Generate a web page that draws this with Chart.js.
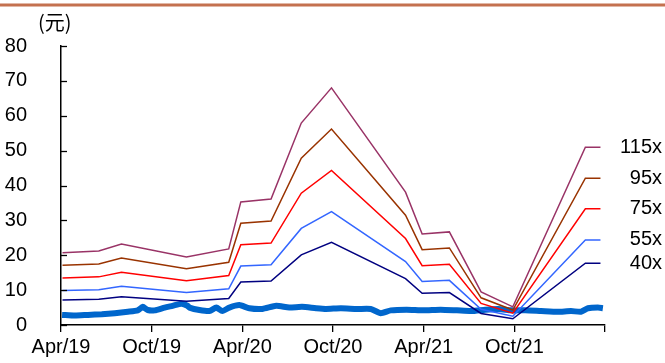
<!DOCTYPE html>
<html>
<head>
<meta charset="utf-8">
<script src="https://cdn.jsdelivr.net/npm/chart.js@4/dist/chart.umd.min.js"></script>
<style>
	html, body { margin: 0; padding: 0; background: #fff; }
	#wrap { position: relative; width: 665px; height: 363px; }
</style>
</head>
<body>
<div id="wrap"><canvas id="peBand"></canvas></div>
<script>
// x positions are months since Apr/19
const xTickLabels = ['Apr/19', 'Oct/19', 'Apr/20', 'Oct/20', 'Apr/21', 'Oct/21', ''];
const bandNames = ['115x', '95x', '75x', '55x', '40x'];
const bandColors = ['#993366', '#993300', '#FF0000', '#3366FF', '#000080'];

const bandMonths = [0.1, 2.5, 4.0, 8.3, 11.1, 11.9, 13.9, 15.9, 17.9, 22.8, 23.9, 25.7, 27.8, 29.9, 34.7, 35.7];
const band115 = [20.7, 21.2, 23.2, 19.5, 21.8, 35.3, 36.1, 57.9, 68.0, 38.1, 26.1, 26.7, 9.5, 5.2, 51.0, 51.0];
const band95 = [17.1, 17.5, 19.2, 16.1, 18.0, 29.2, 29.8, 47.8, 56.2, 31.5, 21.6, 22.1, 7.8, 4.3, 42.1, 42.1];
const band75 = [13.5, 13.8, 15.1, 12.7, 14.2, 23.0, 23.5, 37.8, 44.3, 24.8, 17.0, 17.4, 6.2, 3.4, 33.3, 33.3];
const band55 = [9.9, 10.1, 11.1, 9.3, 10.4, 16.9, 17.3, 27.7, 32.5, 18.2, 12.5, 12.8, 4.5, 2.5, 24.4, 24.4];
const band40 = [7.2, 7.4, 8.1, 6.8, 7.6, 12.3, 12.6, 20.1, 23.7, 13.3, 9.1, 9.3, 3.3, 1.8, 17.7, 17.7];

const priceMonths = [0.07, 0.92, 1.78, 2.70, 3.56, 4.42, 5.08, 5.41, 5.74, 6.20, 6.86, 7.38, 7.98, 8.37, 8.50,
	9.16, 9.82, 10.28, 10.68, 11.14, 11.80, 12.46, 13.32, 14.24, 15.10, 15.95, 16.88, 17.53, 18.52, 19.58,
	20.50, 21.16, 21.82, 22.87, 23.99, 25.12, 26.20, 27.16, 28.08, 28.94, 29.80, 30.72, 31.77, 32.89, 33.75,
	34.41, 34.87, 35.53, 35.86];
const priceValues = [2.9, 2.7, 2.9, 3.1, 3.4, 3.8, 4.2, 5.2, 4.3, 4.2, 5.0, 5.5, 6.1, 5.5, 5.0,
	4.3, 4.0, 5.0, 4.0, 5.0, 5.7, 4.8, 4.6, 5.5, 5.0, 5.2, 4.8, 4.6, 4.8, 4.6,
	4.6, 3.4, 4.2, 4.4, 4.2, 4.4, 4.2, 4.0, 4.4, 4.6, 4.2, 4.2, 4.0, 3.8, 4.0,
	3.8, 4.8, 5.0, 4.8];

const FONT = "'Liberation Sans', Arial, sans-serif";

const toPoints = (xs, ys) => xs.map((x, i) => ({ x: x, y: ys[i] }));
const bandSeries = [band115, band95, band75, band55, band40];

const datasets = bandSeries.map((vals, i) => ({
	label: bandNames[i],
	data: toPoints(bandMonths, vals),
	borderColor: bandColors[i],
	borderWidth: 1.5,
	pointRadius: 0,
	tension: 0,
}));
datasets.push({
	label: 'price',
	data: toPoints(priceMonths, priceValues),
	borderColor: '#0066CC',
	borderWidth: 6,
	pointRadius: 0,
	tension: 0.2,
});

// top rule, y inside ticks, unit label and band names at line ends
const extras = {
	id: 'extras',
	beforeDraw(chart) {
		const ctx = chart.ctx;
		ctx.save();
		ctx.fillStyle = '#C4714F';
		ctx.fillRect(0, 3.5, chart.width, 3);
		ctx.restore();
	},
	afterDraw(chart) {
		const ctx = chart.ctx;
		const y = chart.scales.y;
		const left = chart.chartArea.left;
		ctx.save();
		ctx.strokeStyle = '#000';
		ctx.lineWidth = 1.3;
		y.ticks.forEach((t) => {
			const py = Math.round(y.getPixelForValue(t.value)) + 0.5;
			ctx.beginPath();
			ctx.moveTo(left, py);
			ctx.lineTo(left + 6, py);
			ctx.stroke();
		});
		ctx.fillStyle = '#000';
		ctx.font = "20px 'Noto Sans CJK SC', " + FONT;
		ctx.textAlign = 'left';
		ctx.textBaseline = 'alphabetic';
		ctx.fillText('(元)', 38, 30);

		ctx.font = '20px ' + FONT;
		ctx.textAlign = 'right';
		ctx.textBaseline = 'middle';
		bandNames.forEach((name, i) => {
			const pts = chart.getDatasetMeta(i).data;
			const last = pts[pts.length - 1];
			ctx.fillText(name, 662, last.y);
		});
		ctx.restore();
	},
};

const chart = new Chart(document.getElementById('peBand'), {
	type: 'line',
	data: { datasets: datasets },
	options: {
		responsive: true,
		maintainAspectRatio: false,
		animation: false,
		layout: { padding: { top: 46, right: 60, left: 0, bottom: 0 } },
		plugins: { legend: { display: false }, tooltip: { enabled: false } },
		scales: {
			x: {
				type: 'linear',
				min: 0,
				max: 36,
				afterFit: (s) => { s.height = 38; },
				border: { display: true, color: '#000', width: 1.5 },
				grid: { drawOnChartArea: false, color: '#000', tickLength: 7, lineWidth: 1.3 },
				ticks: {
					stepSize: 6,
					autoSkip: false,
					maxRotation: 0,
					padding: 3,
					color: '#000',
					font: { family: FONT, size: 20 },
					callback: (v) => xTickLabels[Math.round(v / 6)],
				},
			},
			y: {
				min: 0,
				max: 80,
				afterFit: (s) => { s.width = 61; },
				border: { display: true, color: '#000', width: 1.5 },
				grid: { display: false },
				ticks: {
					stepSize: 10,
					padding: 26,
					color: '#000',
					font: { family: FONT, size: 20 },
				},
			},
		},
	},
	plugins: [extras],
});
</script>
</body>
</html>
